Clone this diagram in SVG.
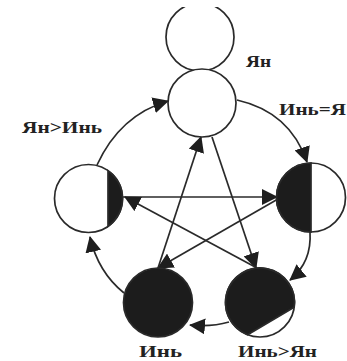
<svg xmlns="http://www.w3.org/2000/svg" width="347" height="361" viewBox="0 0 347 361">
  <defs>
    <marker id="arr" viewBox="0 0 16 16" markerUnits="userSpaceOnUse" markerWidth="16" markerHeight="16" refX="15" refY="8" orient="auto">
      <path d="M0,0 L16,8 L0,16 z" fill="#1e1e1e"/>
    </marker>
    <clipPath id="topclip"><rect x="0" y="7" width="347" height="354"/></clipPath>
  </defs>
  <style>
    .c { fill: #fff; stroke: #2a2a2a; stroke-width: 1.7; }
    .d { fill: #1c1c1c; stroke: #2a2a2a; stroke-width: 1.7; }
    .e { fill: none; stroke: #2a2a2a; stroke-width: 1.7; marker-end: url(#arr); }
    .t { font-family: "Liberation Serif", "DejaVu Serif", serif; font-weight: bold; font-size: 17px; fill: #222; }
  </style>
  <rect width="347" height="361" fill="#fff"/>

  <g id="connectors">
    <path class="e" d="M237,100 Q290,112 307,162"/>
    <path class="e" d="M310,232 Q312,262 290,280"/>
    <path class="e" d="M229,322 Q212,327 190,325"/>
    <path class="e" d="M124,293 Q98,272 90,237"/>
    <path class="e" d="M97,165 Q120,115 168,101"/>
    <path class="e" d="M123,197 L277,197"/>
    <path class="e" d="M278,199 L158,268"/>
    <path class="e" d="M158,268 L201,137"/>
    <path class="e" d="M212,137 L256,268"/>
    <path class="e" d="M257,268 L125,197"/>
  </g>

  <g id="node-yang-top">
    <circle class="c" cx="200" cy="37" r="34" clip-path="url(#topclip)"/>
    <text class="t" x="246" y="67" textLength="25" lengthAdjust="spacingAndGlyphs">Ян</text>
  </g>
  <g id="node-top">
    <circle class="c" cx="202" cy="103" r="34"/>
  </g>
  <g id="node-right">
    <circle class="c" cx="311" cy="197.5" r="34.5"/>
    <path class="d" d="M311,163 A34.5,34.5 0 0 0 311,232 Z"/>
  </g>
  <g id="node-left">
    <circle class="c" cx="88.5" cy="198.5" r="34"/>
    <path class="d" d="M108,170.6 A34,34 0 0 1 108,226.4 Z"/>
  </g>
  <g id="node-yin">
    <circle class="d" cx="158" cy="302.5" r="34.5"/>
    <text class="t" x="139" y="357" textLength="43" lengthAdjust="spacingAndGlyphs">Инь</text>
  </g>
  <g id="node-yin-gt-yang">
    <circle class="c" cx="260" cy="302.5" r="34.5"/>
    <path class="d" d="M294.2,307.3 A34.5,34.5 0 1 0 247.6,334.7 Z"/>
    <text class="t" x="238" y="357" textLength="79" lengthAdjust="spacingAndGlyphs">Инь&gt;Ян</text>
  </g>

  <g id="labels">
    <text class="t" x="279" y="115" textLength="67" lengthAdjust="spacingAndGlyphs">Инь=Я</text>
    <text class="t" x="22" y="133" textLength="80" lengthAdjust="spacingAndGlyphs">Ян&gt;Инь</text>
  </g>
</svg>
